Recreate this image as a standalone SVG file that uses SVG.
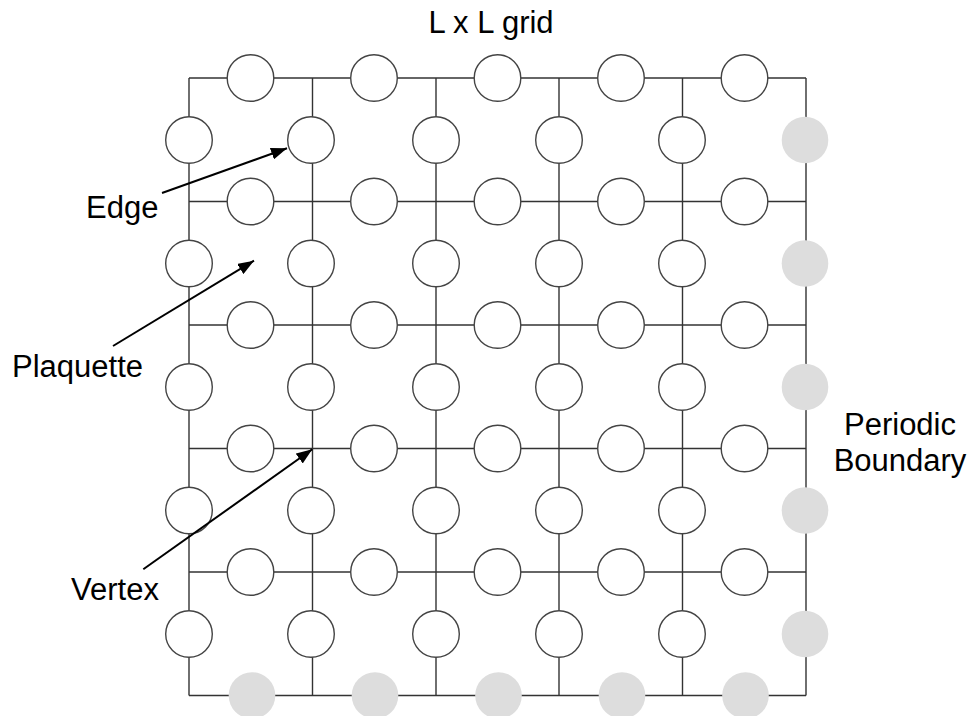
<svg xmlns="http://www.w3.org/2000/svg" width="973" height="716" viewBox="0 0 973 716">
<style>
.grid{stroke:#333;stroke-width:1.4;fill:none}
.q{fill:#fff;stroke:#444;stroke-width:1.4}
.p{fill:#dddddd;stroke:none}
.lbl{font-family:"Liberation Sans",Arial,sans-serif;font-size:31px;fill:#000}
.arr{stroke:#000;stroke-width:2;fill:none;marker-end:url(#ah)}
</style>
<defs>
<marker id="ah" viewBox="0 0 10 10" refX="10" refY="5" markerWidth="16" markerHeight="12" markerUnits="userSpaceOnUse" orient="auto" preserveAspectRatio="none">
<path d="M0,0 L10,5 L0,10 z" fill="#000"/>
</marker>
</defs>
<g id="grid-lines" class="grid">
<line x1="189" y1="78" x2="806" y2="78"/>
<line x1="189" y1="201.5" x2="806" y2="201.5"/>
<line x1="189" y1="325" x2="806" y2="325"/>
<line x1="189" y1="448.5" x2="806" y2="448.5"/>
<line x1="189" y1="572" x2="806" y2="572"/>
<line x1="189" y1="695.5" x2="806" y2="695.5"/>
<line x1="189" y1="78" x2="189" y2="695.5"/>
<line x1="312.5" y1="78" x2="312.5" y2="695.5"/>
<line x1="436" y1="78" x2="436" y2="695.5"/>
<line x1="559" y1="78" x2="559" y2="695.5"/>
<line x1="682.5" y1="78" x2="682.5" y2="695.5"/>
<line x1="806" y1="78" x2="806" y2="695.5"/>
</g>
<g id="horizontal-edges">
<circle class="q" cx="250.5" cy="78" r="23.3"/><circle class="q" cx="374" cy="78" r="23.3"/><circle class="q" cx="497.5" cy="78" r="23.3"/><circle class="q" cx="621" cy="78" r="23.3"/><circle class="q" cx="744.5" cy="78" r="23.3"/>
<circle class="q" cx="250.5" cy="201.5" r="23.3"/><circle class="q" cx="374" cy="201.5" r="23.3"/><circle class="q" cx="497.5" cy="201.5" r="23.3"/><circle class="q" cx="621" cy="201.5" r="23.3"/><circle class="q" cx="744.5" cy="201.5" r="23.3"/>
<circle class="q" cx="250.5" cy="325" r="23.3"/><circle class="q" cx="374" cy="325" r="23.3"/><circle class="q" cx="497.5" cy="325" r="23.3"/><circle class="q" cx="621" cy="325" r="23.3"/><circle class="q" cx="744.5" cy="325" r="23.3"/>
<circle class="q" cx="250.5" cy="448.5" r="23.3"/><circle class="q" cx="374" cy="448.5" r="23.3"/><circle class="q" cx="497.5" cy="448.5" r="23.3"/><circle class="q" cx="621" cy="448.5" r="23.3"/><circle class="q" cx="744.5" cy="448.5" r="23.3"/>
<circle class="q" cx="250.5" cy="572" r="23.3"/><circle class="q" cx="374" cy="572" r="23.3"/><circle class="q" cx="497.5" cy="572" r="23.3"/><circle class="q" cx="621" cy="572" r="23.3"/><circle class="q" cx="744.5" cy="572" r="23.3"/>
<circle class="p" cx="252" cy="695.5" r="23.3"/><circle class="p" cx="375" cy="695.5" r="23.3"/><circle class="p" cx="498.5" cy="695.5" r="23.3"/><circle class="p" cx="622" cy="695.5" r="23.3"/><circle class="p" cx="745.5" cy="695.5" r="23.3"/>
</g>
<g id="vertical-edges">
<circle class="q" cx="189" cy="140" r="23.3"/><circle class="q" cx="311" cy="140" r="23.3"/><circle class="q" cx="436" cy="140" r="23.3"/><circle class="q" cx="559" cy="140" r="23.3"/><circle class="q" cx="682" cy="140" r="23.3"/><circle class="p" cx="805" cy="140" r="23.3"/>
<circle class="q" cx="189" cy="263.5" r="23.3"/><circle class="q" cx="311" cy="263.5" r="23.3"/><circle class="q" cx="436" cy="263.5" r="23.3"/><circle class="q" cx="559" cy="263.5" r="23.3"/><circle class="q" cx="682" cy="263.5" r="23.3"/><circle class="p" cx="805" cy="263.5" r="23.3"/>
<circle class="q" cx="189" cy="387" r="23.3"/><circle class="q" cx="311" cy="387" r="23.3"/><circle class="q" cx="436" cy="387" r="23.3"/><circle class="q" cx="559" cy="387" r="23.3"/><circle class="q" cx="682" cy="387" r="23.3"/><circle class="p" cx="805" cy="387" r="23.3"/>
<circle class="q" cx="189" cy="510.5" r="23.3"/><circle class="q" cx="311" cy="510.5" r="23.3"/><circle class="q" cx="436" cy="510.5" r="23.3"/><circle class="q" cx="559" cy="510.5" r="23.3"/><circle class="q" cx="682" cy="510.5" r="23.3"/><circle class="p" cx="805" cy="510.5" r="23.3"/>
<circle class="q" cx="189" cy="634" r="23.3"/><circle class="q" cx="311" cy="634" r="23.3"/><circle class="q" cx="436" cy="634" r="23.3"/><circle class="q" cx="559" cy="634" r="23.3"/><circle class="q" cx="682" cy="634" r="23.3"/><circle class="p" cx="805" cy="634" r="23.3"/>
</g>
<g id="connectors">
<line class="arr" x1="162" y1="193" x2="287" y2="148.3"/>
<line class="arr" x1="113" y1="346" x2="254" y2="260.7"/>
<line class="arr" x1="143.3" y1="569.3" x2="312.3" y2="449.3"/>
</g>
<g id="title"><text class="lbl" x="491" y="33" text-anchor="middle">L x L grid</text></g>
<g id="label-edge"><text class="lbl" x="86" y="218">Edge</text></g>
<g id="label-plaquette"><text class="lbl" x="12" y="376.5">Plaquette</text></g>
<g id="label-vertex"><text class="lbl" x="71" y="600">Vertex</text></g>
<g id="label-periodic"><text class="lbl" x="900" y="435" text-anchor="middle">Periodic</text><text class="lbl" x="900" y="471" text-anchor="middle">Boundary</text></g>
</svg>
